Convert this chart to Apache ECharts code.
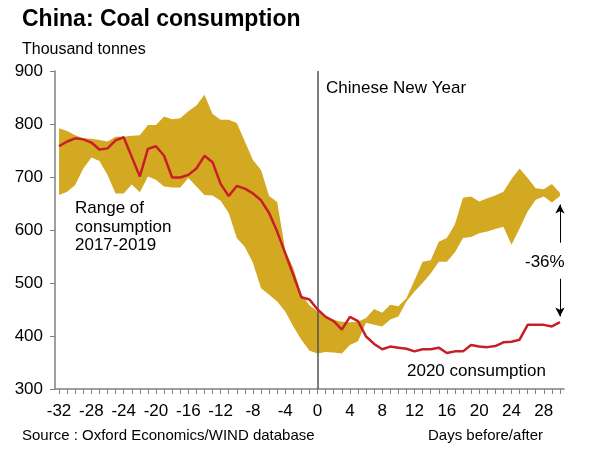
<!DOCTYPE html>
<html>
<head>
<meta charset="utf-8">
<script src="https://cdn.jsdelivr.net/npm/echarts@6/dist/echarts.min.js"></script>
<style>
html,body{margin:0;padding:0;background:#fff;}
#chart{width:594px;height:456px;}
</style>
</head>
<body>
<div id="chart"></div>
<script>
// Days before/after Chinese New Year
var days = [];
for (var d = -32; d <= 30; d++) days.push(String(d));

// 2020 consumption (thousand tonnes)
var consumption2020 = [
  758, 767, 773, 771, 765, 752, 754, 769, 775, 738,
  701, 753, 758, 740, 699, 699, 704, 716, 740, 728,
  687, 664, 683, 678, 669, 656, 632, 597, 556, 515,
  473, 469, 450, 436, 428, 412, 436, 428, 399, 385,
  375, 380, 378, 376, 371, 375, 375, 378, 368, 371,
  371, 383, 380, 379, 381, 388, 389, 393, 421, 421,
  421, 418, 426
];

// Range 2017-2019: upper bound
var rangeHigh = [
  792, 787, 779, 773, 772, 770, 767, 776, 776, 778,
  779, 798, 798, 814, 809, 811, 824, 835, 855, 819,
  808, 808, 802, 767, 732, 713, 664, 653, 562, 528,
  478, 458, 446, 434, 430, 427, 426, 427, 434, 451,
  444, 459, 456, 471, 505, 540, 543, 578, 585, 611,
  661, 663, 654, 660, 665, 672, 696, 716, 698, 679,
  677, 687, 670
];

// Range 2017-2019: lower bound
var rangeLow = [
  666, 672, 685, 716, 737, 730, 704, 669, 669, 686,
  671, 701, 695, 682, 680, 680, 698, 682, 666, 665,
  655, 632, 585, 568, 538, 490, 478, 465, 446, 418,
  393, 372, 367, 370, 369, 367, 383, 390, 425, 421,
  418, 431, 437, 465, 484, 500, 518, 540, 540, 558,
  585, 587, 594, 597, 602, 606, 572, 603, 635, 657,
  663, 652, 664
];

var yTicks = [300, 400, 500, 600, 700, 800, 900];

var rangeWidth = rangeHigh.map(function (v, i) { return v - rangeLow[i]; });

var FONT = '"Liberation Sans", Arial, sans-serif';
var GOLD = '#D3A921';
var RED = '#C81E28';

var chart = echarts.init(document.getElementById('chart'), null, {renderer: 'canvas'});

function txt(text, x, y, size, weight) {
  return {
    type: 'text', x: x, y: y, silent: true,
    style: {
      text: text, fill: '#000',
      font: (weight || 'normal') + ' ' + size + 'px ' + FONT,
      verticalAlign: 'middle', align: 'left'
    }
  };
}

var option = {
  animation: false,
  backgroundColor: '#fff',
  grid: {left: 55, right: 30, top: 71, bottom: 67, containLabel: false},
  xAxis: {
    type: 'category',
    data: days,
    boundaryGap: true,
    axisLine: {lineStyle: {color: '#808080', width: 1.5}},
    axisTick: {show: true, interval: 0, alignWithLabel: true, length: 5, lineStyle: {color: '#808080'}},
    axisLabel: {interval: 3, color: '#000', fontSize: 17, fontFamily: FONT, margin: 14},
    splitLine: {show: false}
  },
  yAxis: {
    type: 'value',
    min: yTicks[0], max: yTicks[yTicks.length - 1], interval: 100,
    axisLine: {show: true, lineStyle: {color: '#808080', width: 1.5}},
    axisTick: {show: true, length: 5, lineStyle: {color: '#808080'}},
    axisLabel: {color: '#000', fontSize: 17, fontFamily: FONT, margin: 12},
    splitLine: {show: false}
  },
  series: [
    {
      name: 'low', type: 'line', stack: 'range', data: rangeLow,
      symbol: 'none', lineStyle: {width: 0, opacity: 0}, silent: true, z: 1
    },
    {
      name: 'range', type: 'line', stack: 'range', data: rangeWidth,
      symbol: 'none', lineStyle: {width: 0, opacity: 0},
      areaStyle: {color: GOLD, opacity: 1}, silent: true, z: 2
    },
    {
      name: '2020', type: 'line', data: consumption2020,
      symbol: 'none', lineStyle: {color: RED, width: 2.5}, z: 5,
      markLine: {
        silent: true,
        label: {show: false},
        lineStyle: {color: '#000', width: 1, type: 'solid'},
        symbolSize: [7, 9],
        data: [
          [{coord: [62, 576], symbol: 'none'}, {coord: [62, 648], symbol: 'arrow'}],
          [{coord: [62, 508], symbol: 'none'}, {coord: [62, 437], symbol: 'arrow'}]
        ]
      }
    },
    {
      name: 'cny', type: 'line', data: [],
      markLine: {
        silent: true, symbol: 'none', label: {show: false},
        lineStyle: {color: '#555', width: 1.5, type: 'solid'},
        data: [{xAxis: 32}]
      }
    }
  ],
  graphic: [
    txt('China: Coal consumption', 22, 20, 23, 'bold'),
    txt('Thousand tonnes', 22, 50, 16),
    txt('Chinese New Year', 326, 88, 17),
    txt('Range of', 75, 208, 17),
    txt('consumption', 75, 227, 17),
    txt('2017-2019', 75, 245, 17),
    txt('2020 consumption', 407, 371, 17),
    txt('-36%', 525, 262, 17),
    txt('Source : Oxford Economics/WIND database', 22, 436, 15),
    txt('Days before/after', 428, 436, 15)
  ]
};
chart.setOption(option);
</script>
</body>
</html>
